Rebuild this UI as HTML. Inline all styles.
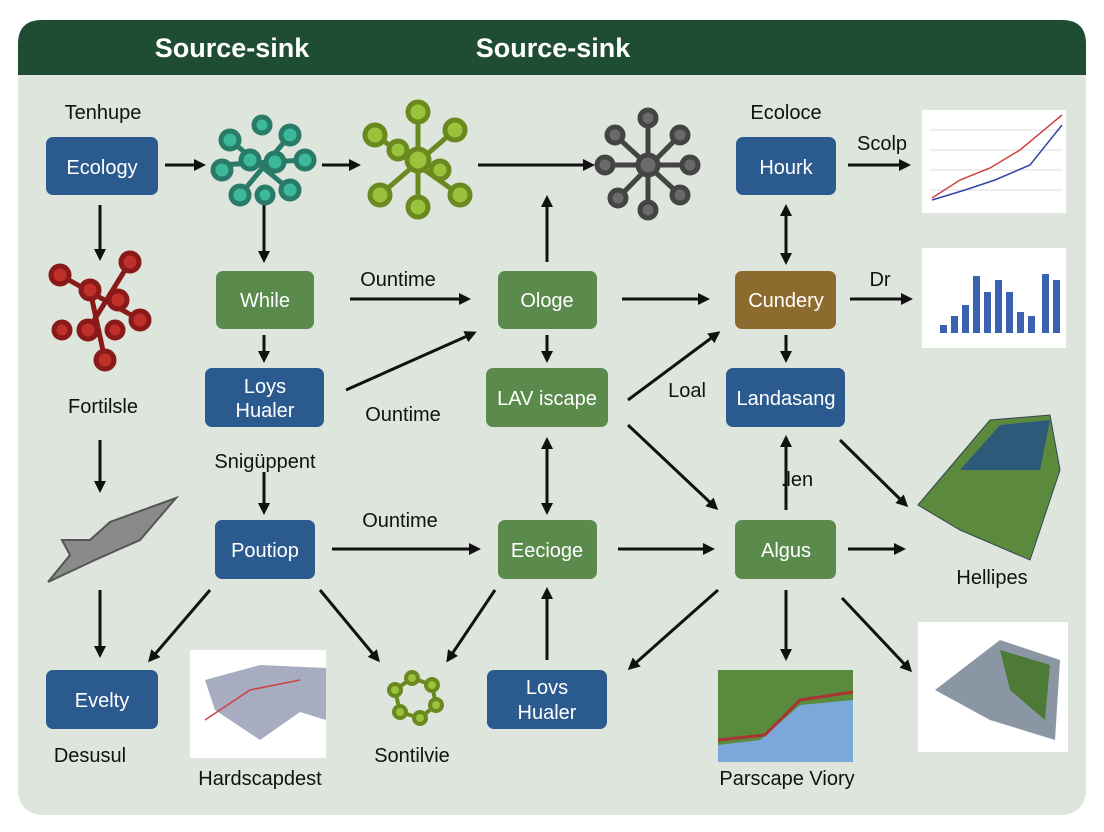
<!DOCTYPE html>
<html><head><meta charset="utf-8"><style>
html,body{margin:0;padding:0;background:#fff;}
svg{display:block;font-family:"Liberation Sans",sans-serif;}
</style></head><body>
<svg width="1104" height="832" viewBox="0 0 1104 832">
<defs>
<marker id="a" markerWidth="12" markerHeight="12" refX="9" refY="6" orient="auto" markerUnits="userSpaceOnUse"><path d="M0,0 L12,6 L0,12 z" fill="#111"/></marker>
<marker id="b" markerWidth="12" markerHeight="12" refX="3" refY="6" orient="auto" markerUnits="userSpaceOnUse"><path d="M12,0 L0,6 L12,12 z" fill="#111"/></marker>
</defs>
<rect x="18" y="20" width="1068" height="795" rx="24" fill="#dde5dc"/>
<path d="M18,75 L18,44 Q18,20 42,20 L1062,20 Q1086,20 1086,44 L1086,75 z" fill="#1f4d33"/>
<text x="232" y="57" font-size="27" font-weight="bold" fill="#fff" text-anchor="middle">Source-sink</text>
<text x="553" y="57" font-size="27" font-weight="bold" fill="#fff" text-anchor="middle">Source-sink</text>

<g stroke="#111" stroke-width="3" fill="none" marker-end="url(#a)">
<line x1="165" y1="165" x2="203" y2="165"/>
<line x1="322" y1="165" x2="358" y2="165"/>
<line x1="478" y1="165" x2="592" y2="165"/>
<line x1="100" y1="205" x2="100" y2="258"/>
<line x1="264" y1="205" x2="264" y2="260"/>
<line x1="100" y1="440" x2="100" y2="490"/>
<line x1="100" y1="590" x2="100" y2="655"/>
<line x1="264" y1="335" x2="264" y2="360"/>
<line x1="264" y1="472" x2="264" y2="512"/>
<line x1="350" y1="299" x2="468" y2="299"/>
<line x1="346" y1="390" x2="474" y2="333"/>
<line x1="332" y1="549" x2="478" y2="549"/>
<line x1="210" y1="590" x2="150" y2="660"/>
<line x1="320" y1="590" x2="378" y2="660"/>
<line x1="547" y1="262" x2="547" y2="198"/>
<line x1="547" y1="335" x2="547" y2="360"/>
<line x1="622" y1="299" x2="707" y2="299"/>
<line x1="628" y1="400" x2="718" y2="333"/>
<line x1="628" y1="425" x2="716" y2="508"/>
<line x1="618" y1="549" x2="712" y2="549"/>
<line x1="495" y1="590" x2="448" y2="660"/>
<line x1="547" y1="660" x2="547" y2="590"/>
<line x1="718" y1="590" x2="630" y2="668"/>
<line x1="848" y1="165" x2="908" y2="165"/>
<line x1="850" y1="299" x2="910" y2="299"/>
<line x1="786" y1="335" x2="786" y2="360"/>
<line x1="786" y1="510" x2="786" y2="438"/>
<line x1="840" y1="440" x2="906" y2="505"/>
<line x1="848" y1="549" x2="903" y2="549"/>
<line x1="786" y1="590" x2="786" y2="658"/>
<line x1="842" y1="598" x2="910" y2="670"/>
</g>
<g stroke="#111" stroke-width="3" fill="none" marker-end="url(#a)" marker-start="url(#b)">
<line x1="547" y1="440" x2="547" y2="512"/>
<line x1="786" y1="207" x2="786" y2="262"/>
</g>

<g font-size="20" fill="#fff" text-anchor="middle">
<rect x="46" y="137" width="112" height="58" rx="7" fill="#2b5a8e"/><text x="102" y="174">Ecology</text>
<rect x="216" y="271" width="98" height="58" rx="7" fill="#5a8a4c"/><text x="265" y="307">While</text>
<rect x="205" y="368" width="119" height="59" rx="7" fill="#2b5a8e"/><text x="265" y="393">Loys</text><text x="265" y="417">Hualer</text>
<rect x="215" y="520" width="100" height="59" rx="7" fill="#2b5a8e"/><text x="265" y="557">Poutiop</text>
<rect x="46" y="670" width="112" height="59" rx="7" fill="#2b5a8e"/><text x="102" y="707">Evelty</text>
<rect x="498" y="271" width="99" height="58" rx="7" fill="#5a8a4c"/><text x="547" y="307">Ologe</text>
<rect x="486" y="368" width="122" height="59" rx="7" fill="#5a8a4c"/><text x="547" y="405">LAV iscape</text>
<rect x="498" y="520" width="99" height="59" rx="7" fill="#5a8a4c"/><text x="547" y="557">Eecioge</text>
<rect x="487" y="670" width="120" height="59" rx="7" fill="#2b5a8e"/><text x="547" y="694">Lovs</text><text x="547" y="719">Hualer</text>
<rect x="736" y="137" width="100" height="58" rx="7" fill="#2b5a8e"/><text x="786" y="174">Hourk</text>
<rect x="735" y="271" width="101" height="58" rx="7" fill="#8d6a2e"/><text x="786" y="307">Cundery</text>
<rect x="726" y="368" width="119" height="59" rx="7" fill="#2b5a8e"/><text x="786" y="405">Landasang</text>
<rect x="735" y="520" width="101" height="59" rx="7" fill="#5a8a4c"/><text x="786" y="557">Algus</text>
</g>

<g font-size="20" fill="#111" text-anchor="middle">
<text x="103" y="119">Tenhupe</text>
<text x="103" y="413">Fortilsle</text>
<text x="265" y="468">Snigüppent</text>
<text x="398" y="286">Ountime</text>
<text x="403" y="421">Ountime</text>
<text x="400" y="527">Ountime</text>
<text x="90" y="762">Desusul</text>
<text x="260" y="785">Hardscapdest</text>
<text x="412" y="762">Sontilvie</text>
<text x="786" y="119">Ecoloce</text>
<text x="882" y="150">Scolp</text>
<text x="880" y="286">Dr</text>
<text x="687" y="397">Loal</text>
<text x="797" y="486">.len</text>
<text x="992" y="584">Hellipes</text>
<text x="787" y="785">Parscape Viory</text>
</g>

<g stroke-width="5">
<g stroke="#2a7a6a" fill="#3cb89a"><line x1="230" y1="140" x2="290" y2="190"/><line x1="290" y1="135" x2="240" y2="195"/><line x1="220" y1="165" x2="305" y2="160"/><circle cx="230" cy="140" r="9"/><circle cx="290" cy="135" r="9"/><circle cx="250" cy="160" r="9"/><circle cx="275" cy="162" r="9"/><circle cx="222" cy="170" r="9"/><circle cx="305" cy="160" r="9"/><circle cx="240" cy="195" r="9"/><circle cx="290" cy="190" r="9"/><circle cx="262" cy="125" r="8"/><circle cx="265" cy="195" r="8"/></g>
<g stroke="#6a8a20" fill="#9ac23a"><line x1="375" y1="135" x2="460" y2="195"/><line x1="455" y1="130" x2="380" y2="195"/><line x1="418" y1="112" x2="418" y2="210"/><circle cx="375" cy="135" r="10"/><circle cx="455" cy="130" r="10"/><circle cx="418" cy="112" r="10"/><circle cx="418" cy="160" r="11"/><circle cx="380" cy="195" r="10"/><circle cx="460" cy="195" r="10"/><circle cx="418" cy="207" r="10"/><circle cx="398" cy="150" r="9"/><circle cx="440" cy="170" r="9"/></g>
<g stroke="#444" fill="#6a6a6a"><line x1="615" y1="135" x2="680" y2="195"/><line x1="680" y1="135" x2="618" y2="198"/><line x1="648" y1="118" x2="648" y2="210"/><line x1="605" y1="165" x2="690" y2="165"/><circle cx="648" cy="165" r="10"/><circle cx="615" cy="135" r="8"/><circle cx="680" cy="135" r="8"/><circle cx="618" cy="198" r="8"/><circle cx="680" cy="195" r="8"/><circle cx="648" cy="118" r="8"/><circle cx="648" cy="210" r="8"/><circle cx="605" cy="165" r="8"/><circle cx="690" cy="165" r="8"/></g>
<g stroke="#8a1a1a" fill="#c0302a"><line x1="60" y1="275" x2="140" y2="320"/><line x1="90" y1="290" x2="105" y2="360"/><line x1="130" y1="262" x2="88" y2="330"/><circle cx="60" cy="275" r="9"/><circle cx="90" cy="290" r="9"/><circle cx="130" cy="262" r="9"/><circle cx="118" cy="300" r="9"/><circle cx="140" cy="320" r="9"/><circle cx="88" cy="330" r="9"/><circle cx="105" cy="360" r="9"/><circle cx="62" cy="330" r="8"/><circle cx="115" cy="330" r="8"/></g>
<g stroke="#6a8a20" fill="#9ac23a" stroke-width="4"><polygon points="395,690 412,678 432,685 436,705 420,718 400,712" fill="none"/><circle cx="395" cy="690" r="6"/><circle cx="412" cy="678" r="6"/><circle cx="432" cy="685" r="6"/><circle cx="436" cy="705" r="6"/><circle cx="420" cy="718" r="6"/><circle cx="400" cy="712" r="6"/></g>
</g>
<path d="M48,582 L70,555 L62,540 L90,540 L110,522 L176,498 L140,540 L95,560 Z" fill="#8a8a8a" stroke="#555" stroke-width="2"/>

<rect x="922" y="110" width="144" height="103" fill="#fff"/>
<g stroke="#ddd" stroke-width="1"><line x1="930" y1="130" x2="1062" y2="130"/><line x1="930" y1="150" x2="1062" y2="150"/><line x1="930" y1="170" x2="1062" y2="170"/><line x1="930" y1="190" x2="1062" y2="190"/></g>
<polyline points="932,198 960,180 990,168 1020,150 1062,115" fill="none" stroke="#c44" stroke-width="1.5"/>
<polyline points="932,200 965,190 995,180 1030,165 1062,125" fill="none" stroke="#34a" stroke-width="1.5"/>
<rect x="922" y="248" width="144" height="100" fill="#fff"/>
<g fill="#3a62b0"><rect x="940" y="325" width="7" height="8"/><rect x="951" y="316" width="7" height="17"/><rect x="962" y="305" width="7" height="28"/><rect x="973" y="276" width="7" height="57"/><rect x="984" y="292" width="7" height="41"/><rect x="995" y="280" width="7" height="53"/><rect x="1006" y="292" width="7" height="41"/><rect x="1017" y="312" width="7" height="21"/><rect x="1028" y="316" width="7" height="17"/><rect x="1042" y="274" width="7" height="59"/><rect x="1053" y="280" width="7" height="53"/></g>
<path d="M918,505 L990,420 L1050,415 L1060,470 L1030,560 L960,530 Z" fill="#5c8a3c" stroke="#345" stroke-width="1"/>
<path d="M960,470 L1000,425 L1050,420 L1040,470 Z" fill="#2e5a7a"/>
<rect x="918" y="622" width="150" height="130" fill="#fff"/>
<path d="M935,690 L1000,640 L1060,660 L1055,740 L990,720 Z" fill="#8a96a4"/>
<path d="M1000,650 L1050,665 L1045,720 L1010,690 Z" fill="#4e7a38"/>
<rect x="190" y="650" width="136" height="108" fill="#fff"/>
<path d="M205,680 L260,665 L326,668 L326,720 L300,712 L260,740 L215,710 Z" fill="#a8acc0"/>
<polyline points="205,720 250,690 300,680" fill="none" stroke="#c44" stroke-width="1.5"/>
<rect x="718" y="670" width="135" height="92" fill="#7aa8d8"/>
<path d="M718,670 L853,670 L853,700 L800,705 L760,740 L718,745 Z" fill="#5a8a3c"/>
<path d="M718,740 L765,735 L800,700 L853,692" fill="none" stroke="#a33" stroke-width="3"/>
</svg>
</body></html>
